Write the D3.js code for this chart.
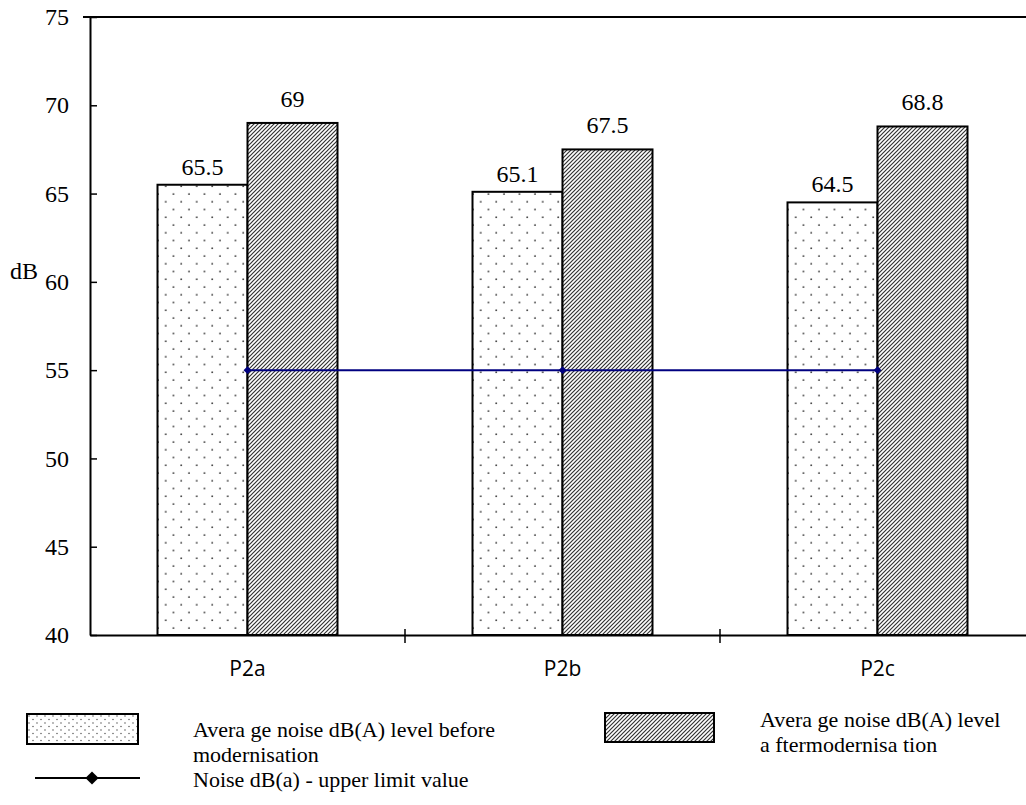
<!DOCTYPE html>
<html>
<head>
	<meta charset="UTF-8"/>
	<title>Noise levels before and after modernisation</title>
	<style type="text/css">
		body {
		margin: 0;
		background: #fff;
		}
		svg {
		display: block;
		}
		text.serif {
		font-family: 'Liberation Serif', 'Times New Roman', serif;
		font-size: 24px;
		fill: #000;
		}
		text.legend {
		font-size: 22px;
		}
		text.cat {
		font-family: 'Open Sans', sans-serif;
		font-size: 21px;
		fill: #000;
		}
	</style>
	<script src="https://d3js.org/d3.v7.min.js"></script>
</head>
<body>
	<svg width="1026" height="805"></svg>
	<script>
		// chart data
		const categories = ['P2a', 'P2b', 'P2c'];
		const before = [65.5, 65.1, 64.5];
		const after = [69, 67.5, 68.8];
		const limit = [55, 55, 55];
		const yTicks = [40, 45, 50, 55, 60, 65, 70, 75];
		const legendLabels = [
			['Avera ge noise dB(A) level before', 'modernisation'],
			['Avera ge noise dB(A) level', 'a ftermodernisa tion'],
			['Noise dB(a) - upper limit value']
		];

		const svg = d3.select('svg');
		const mLeft = 90, mTop = 17, mBottom = 635, mRight = 1035;

		// patterns
		const defs = svg.append('defs');
		const dots = defs.append('pattern')
			.attr('id', 'dots')
			.attr('patternUnits', 'userSpaceOnUse')
			.attr('x', 157).attr('y', 190)
			.attr('width', 15.5).attr('height', 15.5);
		dots.append('circle').attr('cx', 4).attr('cy', 4).attr('r', 0.9).attr('fill', '#333');
		dots.append('circle').attr('cx', 11.75).attr('cy', 11.75).attr('r', 0.9).attr('fill', '#333');

		const dotsSmall = defs.append('pattern')
			.attr('id', 'dotsSmall')
			.attr('patternUnits', 'userSpaceOnUse')
			.attr('x', 27).attr('y', 714)
			.attr('width', 8).attr('height', 7);
		dotsSmall.append('circle').attr('cx', 2).attr('cy', 2).attr('r', 0.7).attr('fill', '#444');
		dotsSmall.append('circle').attr('cx', 6).attr('cy', 5.5).attr('r', 0.7).attr('fill', '#444');

		const hatch = defs.append('pattern')
			.attr('id', 'hatch')
			.attr('patternUnits', 'userSpaceOnUse')
			.attr('width', 4).attr('height', 4);
		hatch.append('rect').attr('width', 4).attr('height', 4).attr('fill', '#fff');
		hatch.append('path')
			.attr('d', 'M-1,1 L1,-1 M0,4 L4,0 M3,5 L5,3')
			.attr('stroke', '#333')
			.attr('stroke-width', 1.2);

		// scales
		const x = d3.scaleBand()
			.domain(categories)
			.range([mLeft, mRight]);

		const x1 = d3.scaleBand()
			.domain(['before', 'after'])
			.range([0, x.bandwidth()])
			.paddingInner(0)
			.paddingOuter(0.75);

		const y = d3.scaleLinear()
			.domain([40, 75])
			.range([mBottom, mTop]);

		// bars
		const groups = svg.append('g')
			.selectAll('g')
			.data(categories)
			.join('g')
			.attr('transform', d => `translate(${x(d)},0)`);

		const series = [
			{key: 'before', values: before, fill: 'url(#dots)', offset: 10},
			{key: 'after', values: after, fill: 'url(#hatch)', offset: 16}
		];

		series.forEach(s => {
			groups.append('rect')
				.attr('x', x1(s.key))
				.attr('y', (d, i) => y(s.values[i]))
				.attr('width', x1.bandwidth())
				.attr('height', (d, i) => y(40) - y(s.values[i]))
				.attr('fill', s.fill)
				.attr('stroke', '#000')
				.attr('stroke-width', 2);

			groups.append('text')
				.attr('class', 'serif')
				.attr('text-anchor', 'middle')
				.attr('x', x1(s.key) + x1.bandwidth() / 2)
				.attr('y', (d, i) => y(s.values[i]) - s.offset)
				.text((d, i) => s.values[i]);
		});

		// limit line
		const line = d3.line()
			.x((d, i) => x(categories[i]) + x.bandwidth() / 2)
			.y(d => y(d));

		svg.append('path')
			.datum(limit)
			.attr('d', line)
			.attr('fill', 'none')
			.attr('stroke', '#000080')
			.attr('stroke-width', 2);

		svg.append('g')
			.selectAll('path')
			.data(limit)
			.join('path')
			.attr('transform', (d, i) => `translate(${x(categories[i]) + x.bandwidth() / 2},${y(d)})`)
			.attr('d', d3.symbol(d3.symbolDiamond2, 40))
			.attr('fill', '#000080');

		// axes
		const yAxis = svg.append('g')
			.attr('transform', `translate(${mLeft},0)`)
			.call(d3.axisLeft(y).tickValues(yTicks).tickSize(7).tickSizeOuter(0).tickPadding(14));
		yAxis.attr('font-family', null).attr('font-size', null);
		yAxis.select('.domain').attr('stroke-width', 2);
		yAxis.selectAll('.tick line').attr('x2', 7).attr('stroke-width', 1.5);
		yAxis.selectAll('.tick text').attr('class', 'serif');

		svg.append('line')
			.attr('x1', mLeft - 7).attr('x2', 1026)
			.attr('y1', mTop).attr('y2', mTop)
			.attr('stroke', '#000').attr('stroke-width', 2);

		const xAxis = svg.append('g')
			.attr('transform', `translate(0,${mBottom})`)
			.call(d3.axisBottom(x).tickSize(0).tickSizeOuter(0).tickPadding(26));
		xAxis.attr('font-family', null).attr('font-size', null);
		xAxis.select('.domain').attr('stroke-width', 2);
		xAxis.selectAll('.tick text').attr('class', 'cat');

		// category boundary ticks
		svg.append('g')
			.selectAll('line')
			.data(categories.slice(1))
			.join('line')
			.attr('x1', d => x(d)).attr('x2', d => x(d))
			.attr('y1', mBottom - 6).attr('y2', mBottom + 8)
			.attr('stroke', '#000').attr('stroke-width', 1.5);

		svg.append('text')
			.attr('class', 'serif')
			.attr('x', 10).attr('y', 279)
			.text('dB');

		// legend
		const lg = svg.append('g');
		lg.append('rect')
			.attr('x', 27).attr('y', 714).attr('width', 111).attr('height', 30)
			.attr('fill', 'url(#dotsSmall)').attr('stroke', '#000').attr('stroke-width', 2);
		lg.append('rect')
			.attr('x', 605).attr('y', 713).attr('width', 109).attr('height', 29)
			.attr('fill', 'url(#hatch)').attr('stroke', '#000').attr('stroke-width', 2);
		lg.append('line')
			.attr('x1', 35).attr('x2', 140).attr('y1', 778).attr('y2', 778)
			.attr('stroke', '#000').attr('stroke-width', 2);
		lg.append('path')
			.attr('transform', 'translate(92,778)')
			.attr('d', d3.symbol(d3.symbolDiamond2, 110))
			.attr('fill', '#000');

		const legendPos = [[193, 737], [760, 727], [193, 787]];
		legendLabels.forEach((lines, i) => {
			const t = lg.append('text')
				.attr('class', 'serif legend')
				.attr('x', legendPos[i][0])
				.attr('y', legendPos[i][1]);
			lines.forEach((l, j) => {
				t.append('tspan')
					.attr('x', legendPos[i][0])
					.attr('dy', j === 0 ? 0 : 25)
					.text(l);
			});
		});
	</script>
</body>
</html>
